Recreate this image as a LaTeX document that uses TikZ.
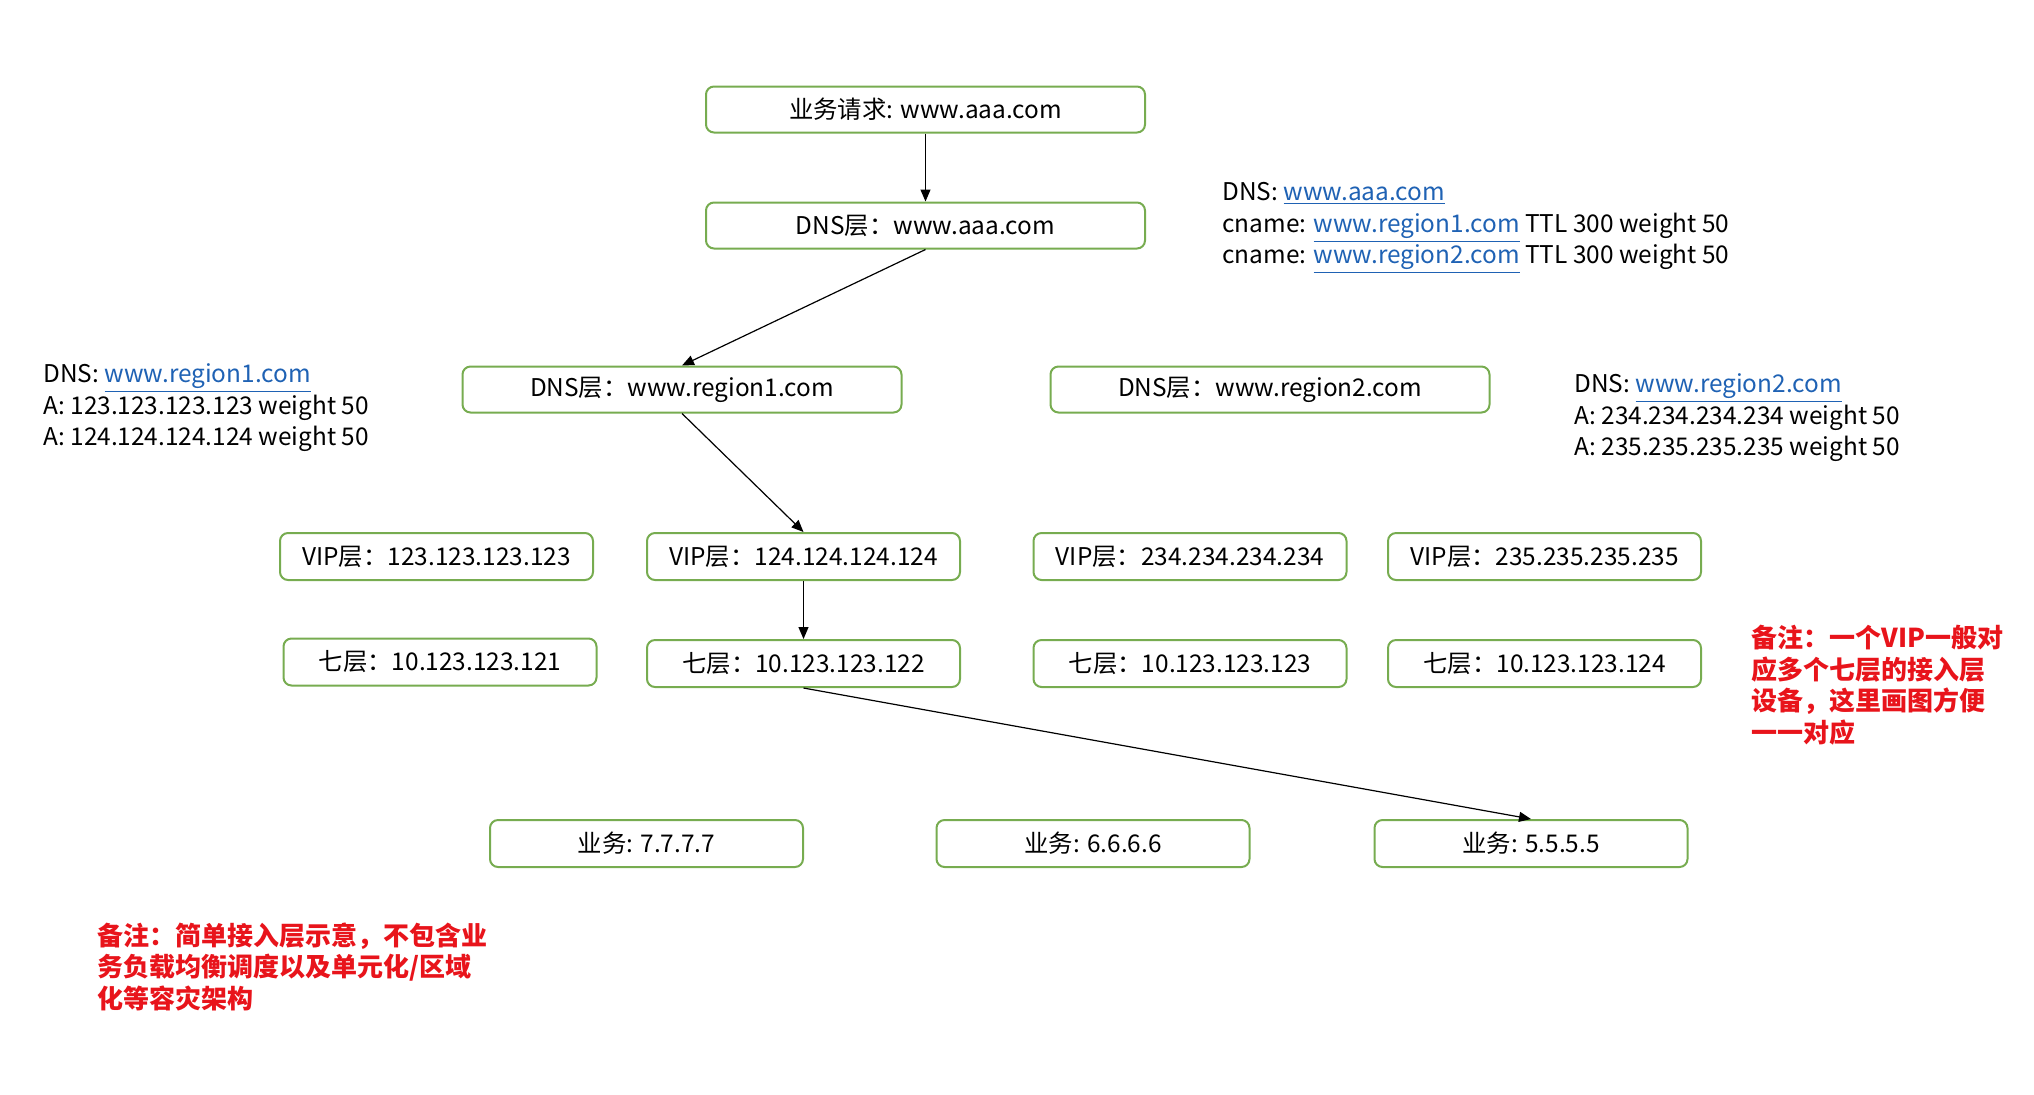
\documentclass[tikz,border=0pt]{standalone}
\usepackage{fontspec}
\setmainfont{Noto Sans CJK SC}
\usepackage{xcolor}
\definecolor{boxline}{HTML}{77AC50}
\definecolor{linkblue}{HTML}{1F62B4}
\definecolor{notered}{HTML}{E8141B}
\usetikzlibrary{arrows.meta,positioning}
\newcommand\lnk[1]{\textcolor{linkblue}{\smash{\underline{#1}}}}

\begin{document}
\begin{tikzpicture}[x=0.5pt, y=-0.5pt,
  font=\fontsize{12.2}{15.75}\selectfont,
  box/.style={draw=boxline, line width=1pt, rounded corners=4pt, fill=white,
    minimum width=219.5pt, minimum height=23pt, inner sep=0pt},
  sbox/.style={box, minimum width=156.5pt, minimum height=23.5pt},
  note/.style={anchor=north west, align=left, inner sep=0pt},
  remark/.style={note, text=notered, font=\fontsize{13}{15.75}\selectfont\bfseries},
  arr/.style={-{Triangle[length=6pt, width=5pt]}, line width=0.6pt}
]
\useasboundingbox (0,0) rectangle (2034,1094);
% DNS layers
\node[box] (req) at (925.5,109.5) {业务请求: www.aaa.com};
\node[box, below=34pt of req] (dns) {DNS层：www.aaa.com};
\node[box] (dns1) at (682,389.5) {DNS层：www.region1.com};
\node[box, right=73.5pt of dns1] (dns2) {DNS层：www.region2.com};
% VIP and seven-layer rows
\node[sbox] (vip1) at (436.5,556.5) {VIP层：123.123.123.123};
\node[sbox] (vip2) at (803.5,556.5) {VIP层：124.124.124.124};
\node[sbox] (vip3) at (1190,556.5) {VIP层：234.234.234.234};
\node[sbox] (vip4) at (1544.5,556.5) {VIP层：235.235.235.235};
\node[sbox] (l71) at (440,662) {七层：10.123.123.121};
\node[sbox, below=29pt of vip2] (l72) {七层：10.123.123.122};
\node[sbox, below=29pt of vip3] (l73) {七层：10.123.123.123};
\node[sbox, below=29pt of vip4] (l74) {七层：10.123.123.124};
% services
\node[sbox] (biz7) at (646.5,843.5) {业务: 7.7.7.7};
\node[sbox] (biz6) at (1093,843.5) {业务: 6.6.6.6};
\node[sbox] (biz5) at (1531,843.5) {业务: 5.5.5.5};
% records
\node[note] (rec0) at (1222,182) {DNS: \lnk{www.aaa.com}\\
  cname: \lnk{www.region1.com} TTL 300 weight 50\\
  cname: \lnk{www.region2.com} TTL 300 weight 50};
\node[note] (rec1) at (43,364) {DNS: \lnk{www.region1.com}\\
  A: 123.123.123.123 weight 50\\
  A: 124.124.124.124 weight 50};
\node[note] (rec2) at (1574,374) {DNS: \lnk{www.region2.com}\\
  A: 234.234.234.234 weight 50\\
  A: 235.235.235.235 weight 50};
\node[remark] (rmk1) at (1751,625) {备注：一个VIP一般对\\应多个七层的接入层\\设备，这里画图方便\\一一对应};
\node[remark] (rmk2) at (97,922) {备注：简单接入层示意，不包含业\\务负载均衡调度以及单元化/区域\\化等容灾架构};
% request path
\draw[arr] (req) -- (dns);
\draw[arr] (dns.south) -- (dns1.north);
\draw[arr] (dns1.south) -- (vip2.north);
\draw[arr] (vip2) -- (l72);
\draw[arr] (l72.south) -- (biz5.north);
\end{tikzpicture}
\end{document}
